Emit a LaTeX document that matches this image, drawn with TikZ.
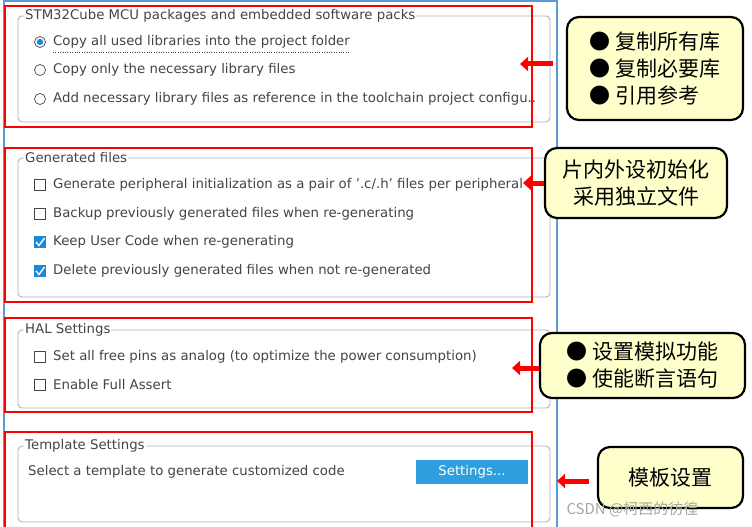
\documentclass[tikz,border=0pt]{standalone}
\usepackage{fontspec}
\setmainfont{DejaVu Sans}
\newfontfamily\cjk{Noto Sans CJK SC}
\usetikzlibrary{arrows.meta}
\definecolor{uitext}{HTML}{444444}
\definecolor{frameblue}{HTML}{5B9BD5}
\definecolor{btnblue}{HTML}{2E9FDC}
\definecolor{callfill}{HTML}{FFFFCC}
\definecolor{chkblue}{HTML}{1E88D8}
\begin{document}
\begin{tikzpicture}[x=1pt,y=-1pt,
  redbox/.style={draw=red,line width=2.4pt},
  group/.style={draw=gray!60,rounded corners=4pt,line width=0.9pt},
  gtitle/.style={anchor=west,fill=white,inner sep=1pt,text=uitext,font=\fontsize{13.3}{15}\selectfont},
  item/.style={anchor=west,inner sep=0pt,text=uitext,font=\fontsize{13.3}{15}\selectfont},
  radio/.style={draw=uitext,circle,minimum size=11pt,inner sep=0pt,line width=0.7pt},
  box/.style={draw=uitext,minimum size=10.5pt,inner sep=0pt,line width=0.7pt},
  callout/.style={draw=black,fill=callfill,line width=2.2pt,rounded corners=12pt,font=\cjk\fontsize{21}{27}\selectfont,align=left},
  arr/.style={draw=red,line width=5pt,-{Triangle[length=8pt,width=14pt]}}]
\useasboundingbox (0,0) rectangle (752,527);
\fill[white] (0,0) rectangle (752,527);
% blue frame
\draw[frameblue,line width=1.4pt] (4,0) -- (4,527);
\draw[frameblue,line width=1.4pt] (557,0) -- (557,527);
\draw[frameblue,line width=1.4pt] (4,1) -- (557,1);
% groups
\draw[group] (18,16) rectangle (550,122);
\node[gtitle] (g1) at (24,16) {STM32Cube MCU packages and embedded software packs};
\draw[group] (18,158) rectangle (550,297);
\node[gtitle] (g2) at (24,158) {Generated files};
\draw[group] (18,330) rectangle (550,408);
\node[gtitle] (g3) at (24,330) {HAL Settings};
\draw[group] (18,446) rectangle (550,522);
\node[gtitle] (g4) at (24,446) {Template Settings};
% radios
\node[radio] (r1) at (40,42) {}; \fill[chkblue] (r1) circle (3.2pt);
\node[radio] (r2) at (40,70) {};
\node[radio] (r3) at (40,99) {};
\node[item] (t1) at (53,42) {Copy all used libraries into the project folder};
\draw[uitext,dotted] (53,52) -- (t1.east |- 0,52);
\node[item] (t2) at (53,70) {Copy only the necessary library files};
\node[item] (t3) at (53,99) {Add necessary library files as reference in the toolchain project configu..};
% checkboxes
\node[box] (c1) at (40,185) {};
\node[box] (c2) at (40,214) {};
\node[box,fill=chkblue,draw=chkblue] (c3) at (40,242) {};
\draw[white,line width=1.4pt] (36,242) -- (39,245.5) -- (44.5,238);
\node[box,fill=chkblue,draw=chkblue] (c4) at (40,271) {};
\draw[white,line width=1.4pt] (36,271) -- (39,274.5) -- (44.5,267);
\node[item] at (53,185) {Generate peripheral initialization as a pair of '.c/.h' files per peripheral};
\node[item] at (53,214) {Backup previously generated files when re-generating};
\node[item] at (53,242) {Keep User Code when re-generating};
\node[item] at (53,271) {Delete previously generated files when not re-generated};
\node[box] (c5) at (40,357) {};
\node[box] (c6) at (40,385) {};
\node[item] at (53,357) {Set all free pins as analog (to optimize the power consumption)};
\node[item] at (53,385) {Enable Full Assert};
\node[item] at (28,472) {Select a template to generate customized code};
\node[fill=btnblue,minimum width=112pt,minimum height=24pt,text=white,font=\fontsize{13.3}{15}\selectfont] (btn) at (472,472) {Settings...};
% red boxes
\draw[redbox] (5,6) rectangle (532,127);
\draw[redbox] (5,148) rectangle (532,302);
\draw[redbox] (5,318) rectangle (532,412);
\draw[redbox] (5,432) rectangle (532,530);
% callouts
\node[callout,minimum width=176pt,minimum height=103pt] (k1) at (655,68.5) {●\ 复制所有库\\●\ 复制必要库\\●\ 引用参考};
\node[callout,minimum width=182pt,minimum height=70pt,align=center] (k2) at (636,183) {片内外设初始化\\采用独立文件};
\node[callout,minimum width=205pt,minimum height=65pt] (k3) at (642.5,365.5) {●\ 设置模拟功能\\●\ 使能断言语句};
\node[callout,minimum width=145pt,minimum height=61pt] (k4) at (670.5,477.5) {模板设置};
% arrows
\coordinate (a1) at (520,64); \coordinate (a2) at (523,183);
\coordinate (a3) at (512,368); \coordinate (a4) at (557,481);
\draw[arr] (k1.west |- a1) ++(-13,0) coordinate (s1) (s1) -- (a1);
\draw[arr] (k2.west |- a2) -- (a2);
\draw[arr] (k3.west |- a3) -- (a3);
\draw[arr] (k4.west |- a4) ++(-8,0) coordinate (s4) (s4) -- (a4);
\node[anchor=west,text=gray!70,font=\cjk\fontsize{15}{17}\selectfont] (wm) at (563,509) {CSDN @柯西的彷徨};
\end{tikzpicture}
\end{document}
